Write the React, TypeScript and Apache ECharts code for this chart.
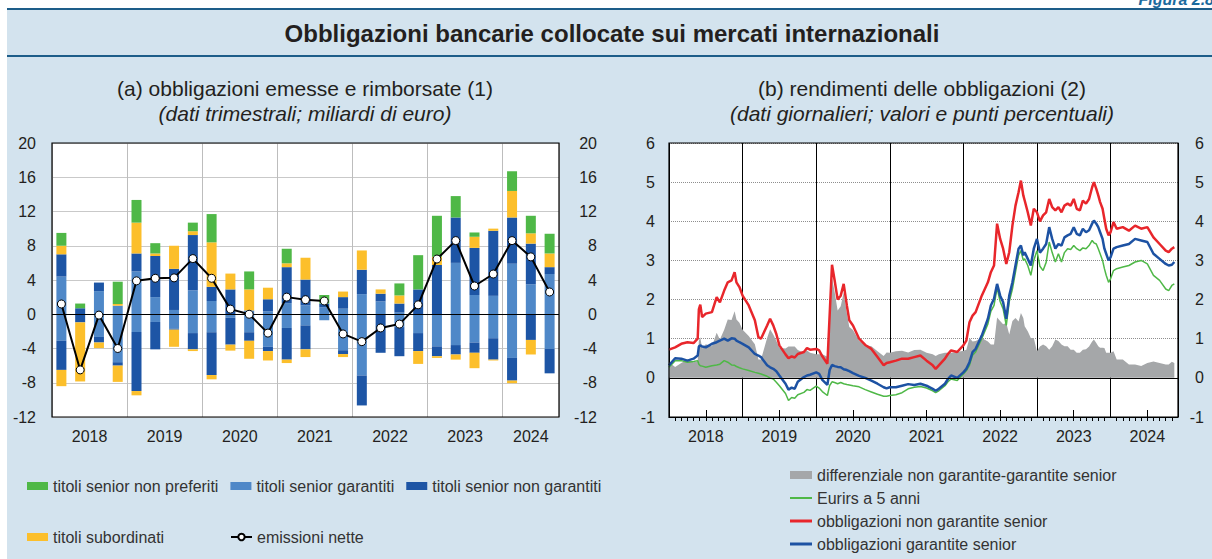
import React, { useEffect, useRef } from "react";
import * as echarts from "echarts";

// ---------- Panel (a): quarterly flows, billions of euro ----------
const quarters = [
  "2018T1","2018T2","2018T3","2018T4","2019T1","2019T2","2019T3","2019T4",
  "2020T1","2020T2","2020T3","2020T4","2021T1","2021T2","2021T3","2021T4",
  "2022T1","2022T2","2022T3","2022T4","2023T1","2023T2","2023T3","2023T4",
  "2024T1","2024T2","2024T3",
];
// issued (positive)
const garantitiEmessi = [4.4,0,2.7,1.0,5.0,2.0,0.5,2.8,1.55,0,0.45,0.35,1.3,1.05,0.8,0.65,2.35,1.5,0.2,0,0,6.0,2.25,2.15,5.9,3.5,4.7];
const nonGarantitiEmessi = [2.6,0.7,1.0,0,2.1,4.8,4.8,6.45,1.65,2.9,0,1.4,4.2,3.0,0.45,1.35,2.85,0.9,1.05,2.9,5.75,5.3,5.5,7.6,5.4,4.75,0.8];
const subordinatiEmessi = [1.0,0,0,0.2,3.6,0.3,2.7,0.45,5.2,1.85,2.45,1.35,0.45,2.55,0,0.65,2.25,0.5,0.95,0,0.95,0,1.3,0.25,3.1,1.2,1.6];
const nonPreferitiEmessi = [1.5,0.55,0,2.6,2.65,1.2,0,1.0,3.3,0,2.1,0,1.7,0,1.0,0,0,0,1.4,4.0,4.8,2.5,0.5,0,2.3,2.05,2.3];
// redeemed (negative)
const garantitiRimborsati = [-3.1,0,-2.65,-5.6,-2.07,-0.9,-1.7,-2.2,-2.1,-0.4,-2.1,-3.8,-1.6,-1.3,-0.7,-4.2,-7.15,0,-1.5,-2.2,-3.75,-3.6,-3.3,-2.8,-5.1,0,-4.05];
const nonGarantitiRimborsati = [-3.4,-0.95,-0.65,-0.4,-6.9,-3.2,-0.1,-1.9,-5.0,-3.15,-1.0,-0.5,-3.7,-2.8,0,-0.45,-3.5,-4.5,-3.4,-2.1,-1.15,-1.1,-1.2,-2.5,-2.65,-3.0,-2.85];
const subordinatiRimborsati = [-1.9,-6.9,-0.65,-1.9,-0.5,0,-2.0,-0.2,-0.5,-0.7,-2.1,-1.1,-0.4,-0.9,0,-0.35,0,0,0,-1.5,-0.2,-0.6,-1.8,-0.1,-0.3,-1.7,0];
const emissioniNette = [1.2,-6.5,-0.1,-4.0,3.9,4.2,4.25,6.5,4.2,0.6,0.0,-2.2,2.0,1.7,1.55,-2.3,-3.2,-1.6,-1.15,1.1,6.45,8.6,3.3,4.7,8.6,6.7,2.6];
const yearLabelsA = ["2018","2019","2020","2021","2022","2023","2024"];

// ---------- Panel (b): yields, percent ----------
const yieldDates = [
  "2018-01-01","2018-02-01","2018-03-01","2018-04-01","2018-05-01","2018-05-22","2018-05-28","2018-06-04","2018-06-13",
  "2018-07-01","2018-08-01","2018-08-25","2018-09-10","2018-10-01","2018-10-19","2018-11-07","2018-11-22","2018-12-01","2018-12-16",
  "2019-01-01","2019-02-01","2019-03-01","2019-03-19","2019-04-01","2019-05-01","2019-05-16","2019-06-01","2019-06-16",
  "2019-07-01","2019-08-01","2019-08-16","2019-09-01","2019-09-16","2019-10-01","2019-11-01","2019-11-16","2019-12-01",
  "2020-01-01","2020-01-16","2020-02-01","2020-02-25","2020-03-07","2020-03-19","2020-04-01","2020-04-16","2020-05-01","2020-05-16",
  "2020-06-01","2020-06-13","2020-07-01","2020-08-01","2020-09-01","2020-10-01","2020-11-01","2020-12-01","2020-12-16",
  "2021-01-01","2021-02-01","2021-03-01","2021-04-01","2021-05-01","2021-06-01","2021-07-01","2021-08-01","2021-08-16",
  "2021-09-01","2021-10-01","2021-10-16","2021-11-01","2021-12-01",
  "2022-01-01","2022-01-16","2022-02-01","2022-02-15","2022-03-01","2022-04-01","2022-05-01","2022-05-16","2022-06-01","2022-06-16",
  "2022-07-01","2022-07-16","2022-08-01","2022-08-16","2022-09-01","2022-09-16","2022-10-01","2022-10-13","2022-10-25","2022-11-01",
  "2022-11-16","2022-12-01","2022-12-16",
  "2023-01-01","2023-01-16","2023-02-01","2023-02-15","2023-03-01","2023-03-16","2023-04-01","2023-04-16","2023-05-01","2023-05-16",
  "2023-06-01","2023-06-16","2023-07-01","2023-07-16","2023-08-01","2023-08-16","2023-09-01","2023-09-16","2023-10-01","2023-10-10",
  "2023-10-22","2023-11-01","2023-11-10","2023-11-22","2023-12-01","2023-12-10","2023-12-22",
  "2024-01-01","2024-01-16","2024-02-01","2024-03-01","2024-04-01","2024-05-01","2024-06-01","2024-07-01","2024-08-01","2024-09-01",
  "2024-10-01","2024-10-16","2024-11-01","2024-11-13",
];
const nonGarantiteSenior = [
  0.72,0.78,0.87,0.91,0.89,1.0,1.75,1.87,1.55,
  1.64,1.68,2.06,1.93,2.23,2.44,2.49,2.70,2.44,2.32,
  2.10,1.85,1.47,1.04,1.0,1.34,1.51,1.34,1.12,
  0.83,0.60,0.50,0.55,0.52,0.61,0.66,0.76,0.72,
  0.74,0.70,0.55,0.36,1.6,2.89,2.5,2.0,2.1,2.40,
  1.85,1.47,1.34,1.0,0.84,0.74,0.53,0.32,0.38,
  0.40,0.44,0.49,0.49,0.53,0.57,0.44,0.32,0.23,
  0.32,0.49,0.61,0.70,0.66,
  0.83,0.95,1.42,1.59,1.68,2.10,2.44,2.70,2.87,3.94,
  3.55,3.30,2.91,3.21,3.89,4.40,4.74,5.04,4.66,4.53,
  4.23,3.89,4.32,
  4.23,4.0,4.15,4.23,4.57,4.36,4.28,4.36,4.23,4.40,
  4.45,4.40,4.57,4.32,4.28,4.53,4.45,4.57,4.87,5.0,
  4.83,4.66,4.49,4.32,4.06,3.81,3.64,
  3.72,3.98,3.81,3.85,3.76,3.89,3.81,3.85,3.59,3.42,
  3.25,3.21,3.30,3.34,
];
const garantiteSenior = [
  0.32,0.50,0.49,0.44,0.49,0.57,0.80,0.83,0.80,
  0.78,0.87,0.91,0.95,1.0,0.95,1.01,1.0,0.95,0.91,
  0.87,0.78,0.61,0.57,0.53,0.32,0.27,0.23,0.17,
  0.06,-0.15,-0.30,-0.25,-0.28,-0.10,0.02,0.06,0.08,
  0.14,0.10,-0.05,-0.18,0.2,0.33,0.30,0.28,0.27,0.22,
  0.20,0.17,0.12,0.05,0.0,-0.07,-0.15,-0.24,-0.27,
  -0.24,-0.24,-0.20,-0.16,-0.18,-0.15,-0.20,-0.28,-0.33,
  -0.28,-0.15,-0.03,0.06,0.0,
  0.14,0.23,0.40,0.66,0.74,1.08,1.51,1.85,2.02,2.40,
  2.10,1.93,1.51,2.10,2.44,2.87,3.30,3.38,3.13,3.21,
  3.04,2.87,3.30,
  3.55,3.20,3.30,3.42,3.85,3.55,3.30,3.42,3.38,3.59,
  3.64,3.68,3.85,3.68,3.64,3.81,3.72,3.77,3.94,4.02,
  3.94,3.85,3.72,3.55,3.30,3.17,3.0,
  3.08,3.30,3.34,3.38,3.42,3.55,3.51,3.47,3.17,3.04,
  2.91,2.87,2.89,2.96,
];
const eurirs5Anni = [
  0.27,0.44,0.44,0.40,0.42,0.44,0.35,0.31,0.30,
  0.27,0.31,0.33,0.35,0.44,0.40,0.33,0.32,0.29,0.26,
  0.23,0.19,0.14,0.12,0.10,0.04,0.0,-0.03,-0.11,
  -0.20,-0.40,-0.58,-0.50,-0.52,-0.43,-0.37,-0.30,-0.32,
  -0.21,-0.26,-0.35,-0.45,-0.2,-0.10,-0.12,-0.15,-0.12,-0.15,
  -0.17,-0.18,-0.20,-0.23,-0.30,-0.36,-0.42,-0.47,-0.47,
  -0.45,-0.43,-0.38,-0.28,-0.24,-0.22,-0.26,-0.33,-0.38,
  -0.33,-0.20,-0.10,-0.03,-0.07,
  0.10,0.18,0.32,0.58,0.66,1.0,1.38,1.70,1.85,2.30,
  1.95,1.76,1.34,1.95,2.27,2.70,3.13,3.25,3.0,3.04,
  2.87,2.62,3.0,
  3.25,2.85,2.74,2.95,3.47,3.20,2.96,3.17,2.96,3.20,
  3.30,3.28,3.38,3.30,3.25,3.32,3.30,3.38,3.51,3.45,
  3.42,3.30,3.17,3.0,2.79,2.62,2.44,
  2.53,2.74,2.79,2.83,2.87,2.96,3.0,2.91,2.62,2.49,
  2.27,2.23,2.36,2.40,
];
const yearLabelsB = ["2018","2019","2020","2021","2022","2023","2024"];

const FONT = "'Liberation Sans', Arial, Helvetica, sans-serif";
const TXT = "#231f20";
const C_GREEN = "#4fb847";
const C_LBLUE = "#4f88c8";
const C_DBLUE = "#1d55a5";
const C_YELLOW = "#fcbf2b";
const C_GREY = "#a5a7a9";
const C_RED = "#e8262b";
const C_BLUE = "#1d52a3";

function monthIndex(d: string): number {
  const [y, m, dd] = d.split("-").map(Number);
  const dim = new Date(y, m, 0).getDate();
  return (y - 2018) * 12 + (m - 1) + (dd - 1) / dim;
}

export default function App() {
  const ref = useRef<HTMLDivElement>(null);
  useEffect(() => {
    if (!ref.current) return;
    const chart = echarts.init(ref.current, undefined, { renderer: "svg" });

    const xs = yieldDates.map(monthIndex);
    const pts = (arr: number[]) => arr.map((v, i) => [xs[i], v]);
    const spread = nonGarantiteSenior.map((v, i) => +(v - garantiteSenior[i]).toFixed(2));

    const barBase = {
      type: "bar",
      stack: "flussi",
      xAxisIndex: 0,
      yAxisIndex: 0,
      barWidth: 10,
      silent: true,
    };

    const axisLbl = { fontSize: 16, color: TXT, fontFamily: FONT };
    const legendText = { fontSize: 16, color: "#333", fontFamily: FONT };
    const lg = (extra: any) => ({ padding: 0, selectedMode: false, textStyle: legendText, itemWidth: 21, itemHeight: 8, ...extra });

    const option: any = {
      animation: false,
      backgroundColor: "#ffffff",
      graphic: [
        { type: "rect", shape: { x: 7, y: 8, width: 1205, height: 551 }, style: { fill: "#d3e3ee" }, z: -10 },
        { type: "rect", shape: { x: 7, y: 8, width: 1205, height: 2 }, style: { fill: "#1d5d89" }, z: -9 },
        { type: "rect", shape: { x: 7, y: 55, width: 1205, height: 2 }, style: { fill: "#1d5d89" }, z: -9 },
        { type: "text", x: 1214, y: 7, style: { text: "Figura 2.8", align: "right", verticalAlign: "bottom", fontSize: 16, fontWeight: "bold", fontStyle: "italic", fontFamily: FONT, fill: "#1b6b9e" }, z: -8 },
        { type: "text", x: 612, y: 33, style: { text: "Obbligazioni bancarie collocate sui mercati internazionali", align: "center", verticalAlign: "middle", fontSize: 24, fontWeight: "bold", fontFamily: FONT, fill: TXT } },
        { type: "text", x: 305, y: 88, style: { text: "(a) obbligazioni emesse e rimborsate (1)", align: "center", verticalAlign: "middle", fontSize: 21, fontFamily: FONT, fill: TXT } },
        { type: "text", x: 305, y: 113, style: { text: "(dati trimestrali; miliardi di euro)", align: "center", verticalAlign: "middle", fontSize: 21, fontStyle: "italic", fontFamily: FONT, fill: TXT } },
        { type: "text", x: 922, y: 88, style: { text: "(b) rendimenti delle obbligazioni (2)", align: "center", verticalAlign: "middle", fontSize: 21, fontFamily: FONT, fill: TXT } },
        { type: "text", x: 922, y: 113, style: { text: "(dati giornalieri; valori e punti percentuali)", align: "center", verticalAlign: "middle", fontSize: 21, fontStyle: "italic", fontFamily: FONT, fill: TXT } },
        { type: "rect", shape: { x: 52, y: 143, width: 507, height: 274 }, style: { fill: "none", stroke: "#000", lineWidth: 1.2 }, z: 100, silent: true },
        { type: "rect", shape: { x: 669, y: 143, width: 509, height: 274 }, style: { fill: "none", stroke: "#000", lineWidth: 1.2 }, z: 100, silent: true },
      ],
      grid: [
        { left: 52, top: 143, width: 507, height: 274, show: true, backgroundColor: "#fff", borderWidth: 0 },
        { left: 669, top: 143, width: 509, height: 274, show: true, backgroundColor: "#fff", borderWidth: 0 },
      ],
      xAxis: [
        { type: "category", gridIndex: 0, data: quarters, axisLine: { show: false, onZero: false }, axisTick: { show: false }, axisLabel: { show: false }, splitLine: { show: false } },
        { type: "value", gridIndex: 0, min: 0, max: 27, interval: 4, axisLine: { show: false, onZero: false }, axisTick: { show: false }, axisLabel: { show: false }, splitLine: { show: true, lineStyle: { color: "#bdbdbd", width: 1 } } },
        { type: "value", gridIndex: 0, min: 0, max: 27, interval: 0.5, position: "bottom", axisLine: { show: false, onZero: false }, axisTick: { show: false }, splitLine: { show: false },
          axisLabel: { ...axisLbl, margin: 11, showMinLabel: true, showMaxLabel: true,
            formatter: (v: number) => {
              if (v === 25.5) return yearLabelsA[6];
              if (v % 4 === 2 && v < 24) return yearLabelsA[(v - 2) / 4];
              return "";
            } } },
        { type: "value", gridIndex: 1, min: 0, max: 83, interval: 12, axisLine: { show: true, onZero: false, lineStyle: { color: "#000" } },
          axisTick: { show: false }, minorTick: { show: true, splitNumber: 12, length: 4, lineStyle: { color: "#000", width: 1 } },
          axisLabel: { show: false }, splitLine: { show: true, lineStyle: { color: "#000", width: 1 } } },
        { type: "value", gridIndex: 1, min: 0, max: 83, interval: 6, position: "bottom", axisLine: { show: false, onZero: false },
          axisTick: { show: true, inside: true, length: 7, lineStyle: { color: "#000" } }, splitLine: { show: false },
          axisLabel: { ...axisLbl, margin: 11, formatter: (v: number) => (v % 12 === 6 ? yearLabelsB[(v - 6) / 12] : "") } },
      ],
      yAxis: [
        { type: "value", gridIndex: 0, min: -12, max: 20, interval: 4, position: "left", axisLine: { show: false }, axisTick: { show: false },
          axisLabel: { ...axisLbl, margin: 16 }, splitLine: { show: true, lineStyle: { color: "#c9c9c9", width: 1 } } },
        { type: "value", gridIndex: 0, min: -12, max: 20, interval: 4, position: "right", axisLine: { show: false }, axisTick: { show: false },
          axisLabel: { ...axisLbl, align: "right", margin: 38 }, splitLine: { show: false } },
        { type: "value", gridIndex: 1, min: -1, max: 6, interval: 1, position: "left", axisLine: { show: false }, axisTick: { show: false },
          axisLabel: { ...axisLbl, margin: 14 }, splitLine: { show: true, lineStyle: { color: "#8e8e8e", type: "dotted", width: 1 } } },
        { type: "value", gridIndex: 1, min: -1, max: 6, interval: 1, position: "right", axisLine: { show: false }, axisTick: { show: false },
          axisLabel: { ...axisLbl, align: "right", margin: 26 }, splitLine: { show: false } },
      ],
      legend: [
        lg({ data: ["titoli senior non preferiti", "titoli senior garantiti", "titoli senior non garantiti"], left: 27, top: 478, itemGap: 12, icon: "rect" }),
        lg({ data: ["titoli subordinati"], left: 27, top: 529, icon: "rect" }),
        lg({ data: ["emissioni nette"], left: 230, top: 529 }),
        lg({ data: ["differenziale non garantite-garantite senior"], left: 790, top: 467, itemWidth: 22, itemHeight: 8, icon: "rect" }),
        lg({ data: ["Eurirs a 5 anni"], left: 790, top: 490, itemWidth: 22, itemHeight: 2, icon: "rect" }),
        lg({ data: ["obbligazioni non garantite senior"], left: 790, top: 513, itemWidth: 22, itemHeight: 3, icon: "rect" }),
        lg({ data: ["obbligazioni garantite senior"], left: 790, top: 536, itemWidth: 22, itemHeight: 3, icon: "rect" }),
      ],
      series: [
        { ...barBase, name: "titoli senior garantiti", data: garantitiEmessi, itemStyle: { color: C_LBLUE } },
        { ...barBase, name: "titoli senior non garantiti", data: nonGarantitiEmessi, itemStyle: { color: C_DBLUE } },
        { ...barBase, name: "titoli subordinati", data: subordinatiEmessi, itemStyle: { color: C_YELLOW } },
        { ...barBase, name: "titoli senior non preferiti", data: nonPreferitiEmessi, itemStyle: { color: C_GREEN } },
        { ...barBase, name: "titoli senior garantiti", data: garantitiRimborsati, itemStyle: { color: C_LBLUE } },
        { ...barBase, name: "titoli senior non garantiti", data: nonGarantitiRimborsati, itemStyle: { color: C_DBLUE } },
        { ...barBase, name: "titoli subordinati", data: subordinatiRimborsati, itemStyle: { color: C_YELLOW } },
        { type: "line", name: "emissioni nette", xAxisIndex: 0, yAxisIndex: 0, data: emissioniNette, silent: true,
          symbol: "circle", symbolSize: 8, showSymbol: true,
          lineStyle: { color: "#000", width: 2 }, itemStyle: { color: "#fff", borderColor: "#000", borderWidth: 1 },
          markLine: { silent: true, symbol: ["none", "none"], label: { show: false }, lineStyle: { color: "#000", width: 1.2, type: "solid" }, data: [{ yAxis: 0 }] },
          z: 5 },
        { type: "line", name: "differenziale non garantite-garantite senior", xAxisIndex: 3, yAxisIndex: 2, data: pts(spread), silent: true,
          symbol: "none", lineStyle: { width: 0, color: C_GREY }, itemStyle: { color: C_GREY }, areaStyle: { color: C_GREY, opacity: 1 },
          markLine: { silent: true, symbol: ["none", "none"], label: { show: false }, lineStyle: { color: "#000", width: 1.2, type: "solid" }, data: [{ yAxis: 0 }] } },
        { type: "line", name: "Eurirs a 5 anni", xAxisIndex: 3, yAxisIndex: 2, data: pts(eurirs5Anni), silent: true,
          symbol: "none", lineStyle: { width: 1.5, color: C_GREEN }, itemStyle: { color: C_GREEN } },
        { type: "line", name: "obbligazioni non garantite senior", xAxisIndex: 3, yAxisIndex: 2, data: pts(nonGarantiteSenior), silent: true,
          symbol: "none", lineStyle: { width: 2.5, color: C_RED }, itemStyle: { color: C_RED } },
        { type: "line", name: "obbligazioni garantite senior", xAxisIndex: 3, yAxisIndex: 2, data: pts(garantiteSenior), silent: true,
          symbol: "none", lineStyle: { width: 2.5, color: C_BLUE }, itemStyle: { color: C_BLUE } },
      ],
    };
    chart.setOption(option);
    return () => chart.dispose();
  }, []);

  return (
    <div style={{ position: "absolute", left: 0, top: 0, width: 1212, height: 559 }}>
      <div ref={ref} style={{ width: 1212, height: 559 }} />
    </div>
  );
}
